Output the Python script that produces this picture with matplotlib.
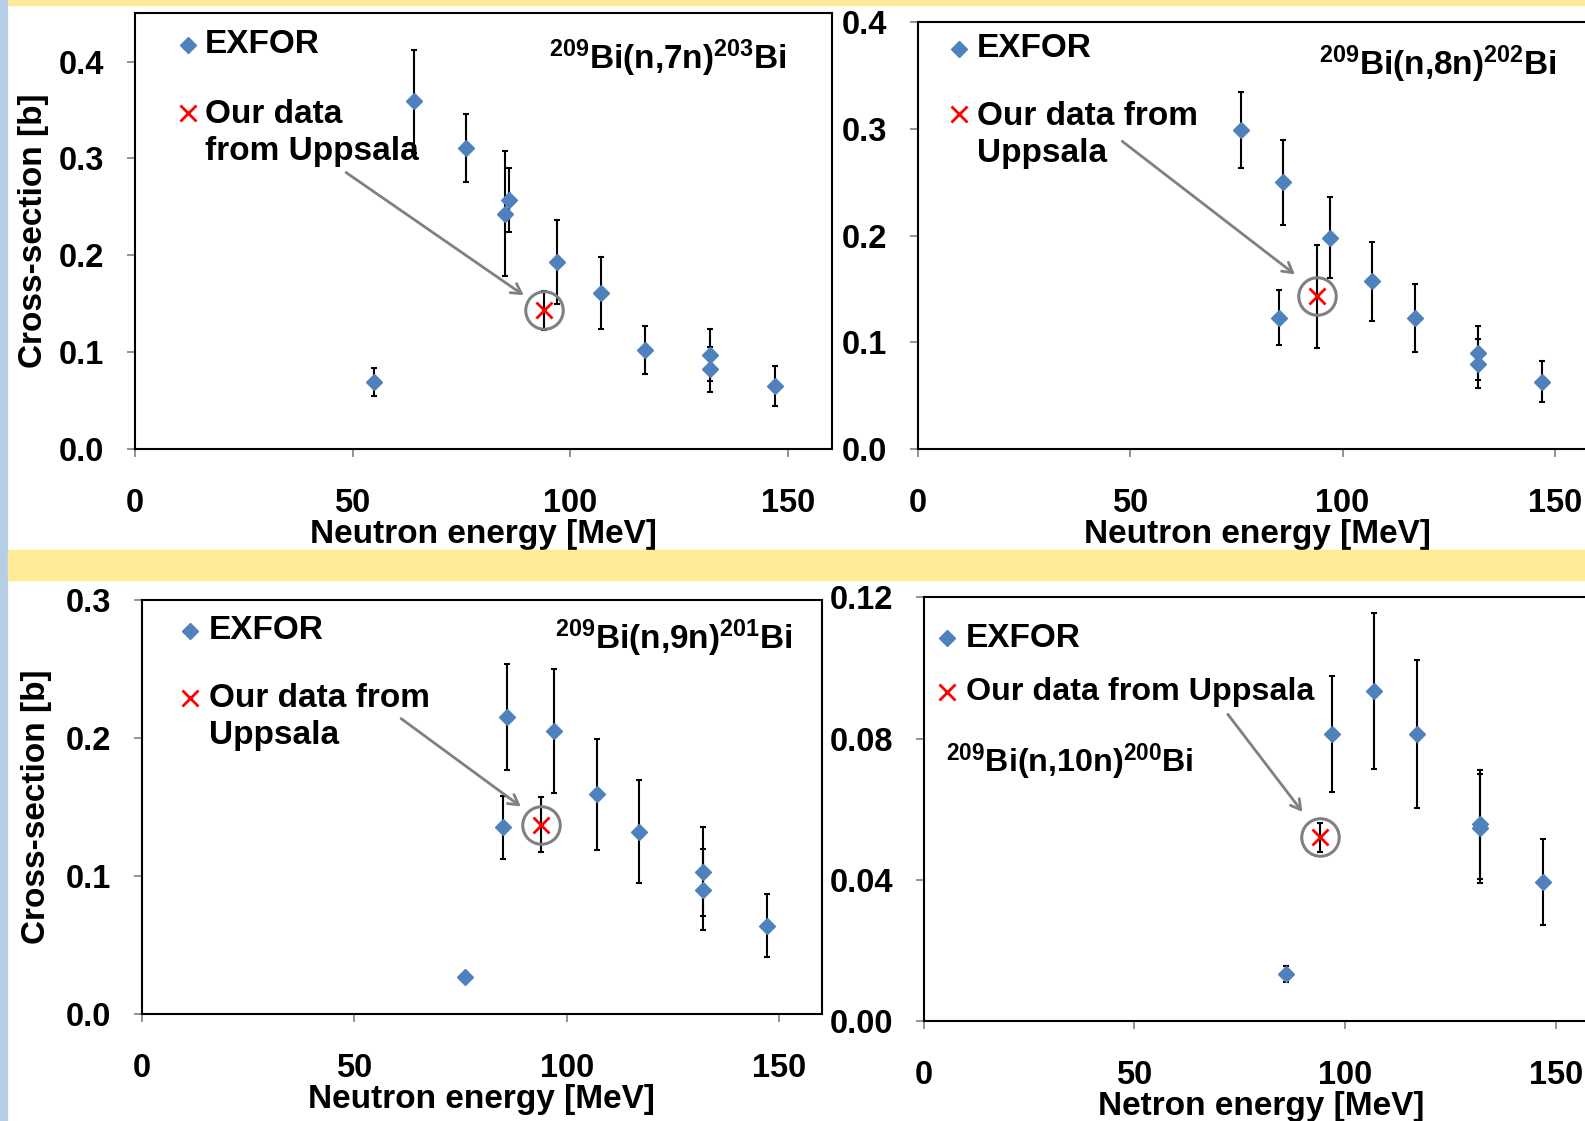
import matplotlib
matplotlib.use('Agg')
import matplotlib.pyplot as plt
from matplotlib.patches import Rectangle

plt.rcParams['font.family'] = ['Liberation Sans', 'DejaVu Sans']
plt.rcParams['font.weight'] = 'bold'
plt.rcParams['mathtext.fontset'] = 'custom'
plt.rcParams['mathtext.rm'] = 'Liberation Sans:bold'
plt.rcParams['mathtext.default'] = 'rm'

# (n,7n)
e7 = [55, 64, 76, 85, 86, 97, 107, 117, 132, 132, 147]
xs7 = [0.069, 0.359, 0.311, 0.243, 0.257, 0.193, 0.161, 0.102, 0.097, 0.082, 0.065]
err7 = [0.014, 0.053, 0.035, 0.065, 0.033, 0.043, 0.037, 0.025, 0.027, 0.023, 0.021]
our7 = (94, 0.143, 0.020)

# (n,8n)
e8 = [76, 85, 86, 97, 107, 117, 132, 132, 147]
xs8 = [0.299, 0.123, 0.250, 0.198, 0.157, 0.123, 0.090, 0.080, 0.063]
err8 = [0.036, 0.026, 0.040, 0.038, 0.037, 0.032, 0.025, 0.023, 0.019]
our8 = (94, 0.143, 0.048)

# (n,9n)
e9 = [76, 85, 86, 97, 107, 117, 132, 132, 147]
xs9 = [0.027, 0.135, 0.215, 0.205, 0.159, 0.132, 0.103, 0.090, 0.064]
err9 = [0.002, 0.0225, 0.0385, 0.045, 0.040, 0.037, 0.032, 0.0295, 0.023]
our9 = (94, 0.137, 0.020)

# (n,10n)
e10 = [86, 97, 107, 117, 132, 132, 147]
xs10 = [0.0134, 0.0814, 0.0935, 0.0814, 0.0557, 0.0546, 0.0394]
err10 = [0.0023, 0.0164, 0.022, 0.021, 0.0155, 0.0155, 0.0121]
our10 = (94, 0.052, 0.004)

yticks7 = [0.0, 0.1, 0.2, 0.3, 0.4]
yticks8 = [0.0, 0.1, 0.2, 0.3, 0.4]
yticks9 = [0.0, 0.1, 0.2, 0.3]
yticks10 = [0.00, 0.04, 0.08, 0.12]
xticks = [0, 50, 100, 150]

blue = '#4F81BD'
gray = '#808080'

fig = plt.figure(figsize=(15.85, 11.21), dpi=100)
fig.patch.set_facecolor('white')
# slide background
fig.patches.append(Rectangle((0, 0), 7 / 1585, 1, transform=fig.transFigure, color='#B7CDE6', zorder=0))
fig.patches.append(Rectangle((8 / 1585, 1 - 5 / 1121), 1, 5 / 1121, transform=fig.transFigure, color='#FEEB98', zorder=0))
fig.patches.append(Rectangle((8 / 1585, 1 - 580 / 1121), 1, 30 / 1121, transform=fig.transFigure, color='#FEEB98', zorder=0))


def panel(rect, ylim, yticks, yfmt, ex, ey, eerr, our, reaction, rpos, rha,
          legpos, ourtext, ourpos, arrow, xlabel, ylabel=None, ylpad=10, tsize=24):
    ax = fig.add_axes(rect)
    ax.set_xlim(0, 160)
    ax.set_ylim(*ylim)
    ax.set_xticks(xticks)
    ax.set_yticks(yticks)
    ax.set_yticklabels([yfmt % v for v in yticks])
    for s in ax.spines.values():
        s.set_linewidth(1.5)
        s.set_color('black')
    ax.tick_params(direction='out', length=6, width=1.2, color=gray, labelsize=23.5)
    ax.tick_params(axis='x', pad=22)
    ax.tick_params(axis='y', pad=16)
    ax.set_xlabel(xlabel, fontsize=24, fontweight='bold', labelpad=0)
    if ylabel:
        ax.set_ylabel(ylabel, fontsize=24, fontweight='bold', labelpad=ylpad)

    ax.errorbar(ex, ey, yerr=eerr, fmt='none', ecolor='black', elinewidth=1.5,
                capsize=2.5, capthick=1.5, zorder=2)
    ax.plot(ex, ey, 'D', color=blue, ms=8.5, mec=blue, zorder=3, clip_on=False)

    ox, oy, oe = our
    ax.errorbar([ox], [oy], yerr=[oe], fmt='none', ecolor='black', elinewidth=1.5,
                capsize=2.5, capthick=1.5, zorder=2)
    ax.plot([ox], [oy], 'x', color='red', ms=11, mew=2, zorder=4)
    ax.plot([ox], [oy], 'o', mfc='none', mec=gray, ms=27, mew=2.2, zorder=4)

    # legend
    lx, ly1, ly2, tx = legpos
    ax.plot([lx], [ly1], 'D', color=blue, ms=8)
    ax.plot([lx], [ly2], 'x', color='red', ms=11, mew=2)
    ax.text(tx, ly1, 'EXFOR', fontsize=24, fontweight='bold', va='center', ha='left')
    ax.text(tx, ourpos, ourtext, fontsize=tsize, fontweight='bold', va='center', ha='left',
            linespacing=1.25)

    ax.text(rpos[0], rpos[1], reaction, fontsize=tsize, fontweight='bold', va='center', ha=rha)

    ax.annotate('', xy=arrow[1], xytext=arrow[0],
                arrowprops=dict(arrowstyle='->,head_length=0.7,head_width=0.4',
                                color=gray, lw=2))
    return ax


panel([0.0849, 0.5996, 0.4400, 0.3887], (0, 0.45), yticks7, '%.1f', e7, xs7, err7, our7,
      r'$^{209}$Bi(n,7n)$^{203}$Bi', (149.6, 0.403), 'right',
      (12.2, 0.4175, 0.3473, 16.2), 'Our data\nfrom Uppsala', 0.326,
      ((48.0, 0.287), (89.8, 0.157)), 'Neutron energy [MeV]', 'Cross-section [b]', 7)

panel([0.5791, 0.5996, 0.4287, 0.3805], (0, 0.4), yticks8, '%.1f', e8, xs8, err8, our8,
      r'$^{209}$Bi(n,8n)$^{202}$Bi', (150.4, 0.3605), 'right',
      (9.7, 0.375, 0.3143, 13.9), 'Our data from\nUppsala', 0.2944,
      ((47.6, 0.290), (89.3, 0.162)), 'Neutron energy [MeV]')

panel([0.0893, 0.0955, 0.4293, 0.3697], (0, 0.3), yticks9, '%.1f', e9, xs9, err9, our9,
      r'$^{209}$Bi(n,9n)$^{201}$Bi', (153.2, 0.272), 'right',
      (11.5, 0.2773, 0.229, 15.8), 'Our data from\nUppsala', 0.2146,
      ((60.5, 0.215), (89.7, 0.149)), 'Neutron energy [MeV]', 'Cross-section [b]', 10)

panel([0.5827, 0.0892, 0.4254, 0.3779], (0, 0.12), yticks10, '%.2f', e10, xs10, err10, our10,
      r'$^{209}$Bi(n,10n)$^{200}$Bi', (5.3, 0.0733), 'left',
      (5.65, 0.1084, 0.0932, 10.0), 'Our data from Uppsala', 0.0932,
      ((71.8, 0.0875), (90.3, 0.0586)), 'Netron energy [MeV]', tsize=23.2)

fig.savefig('out.png', dpi=100, facecolor=fig.get_facecolor())
